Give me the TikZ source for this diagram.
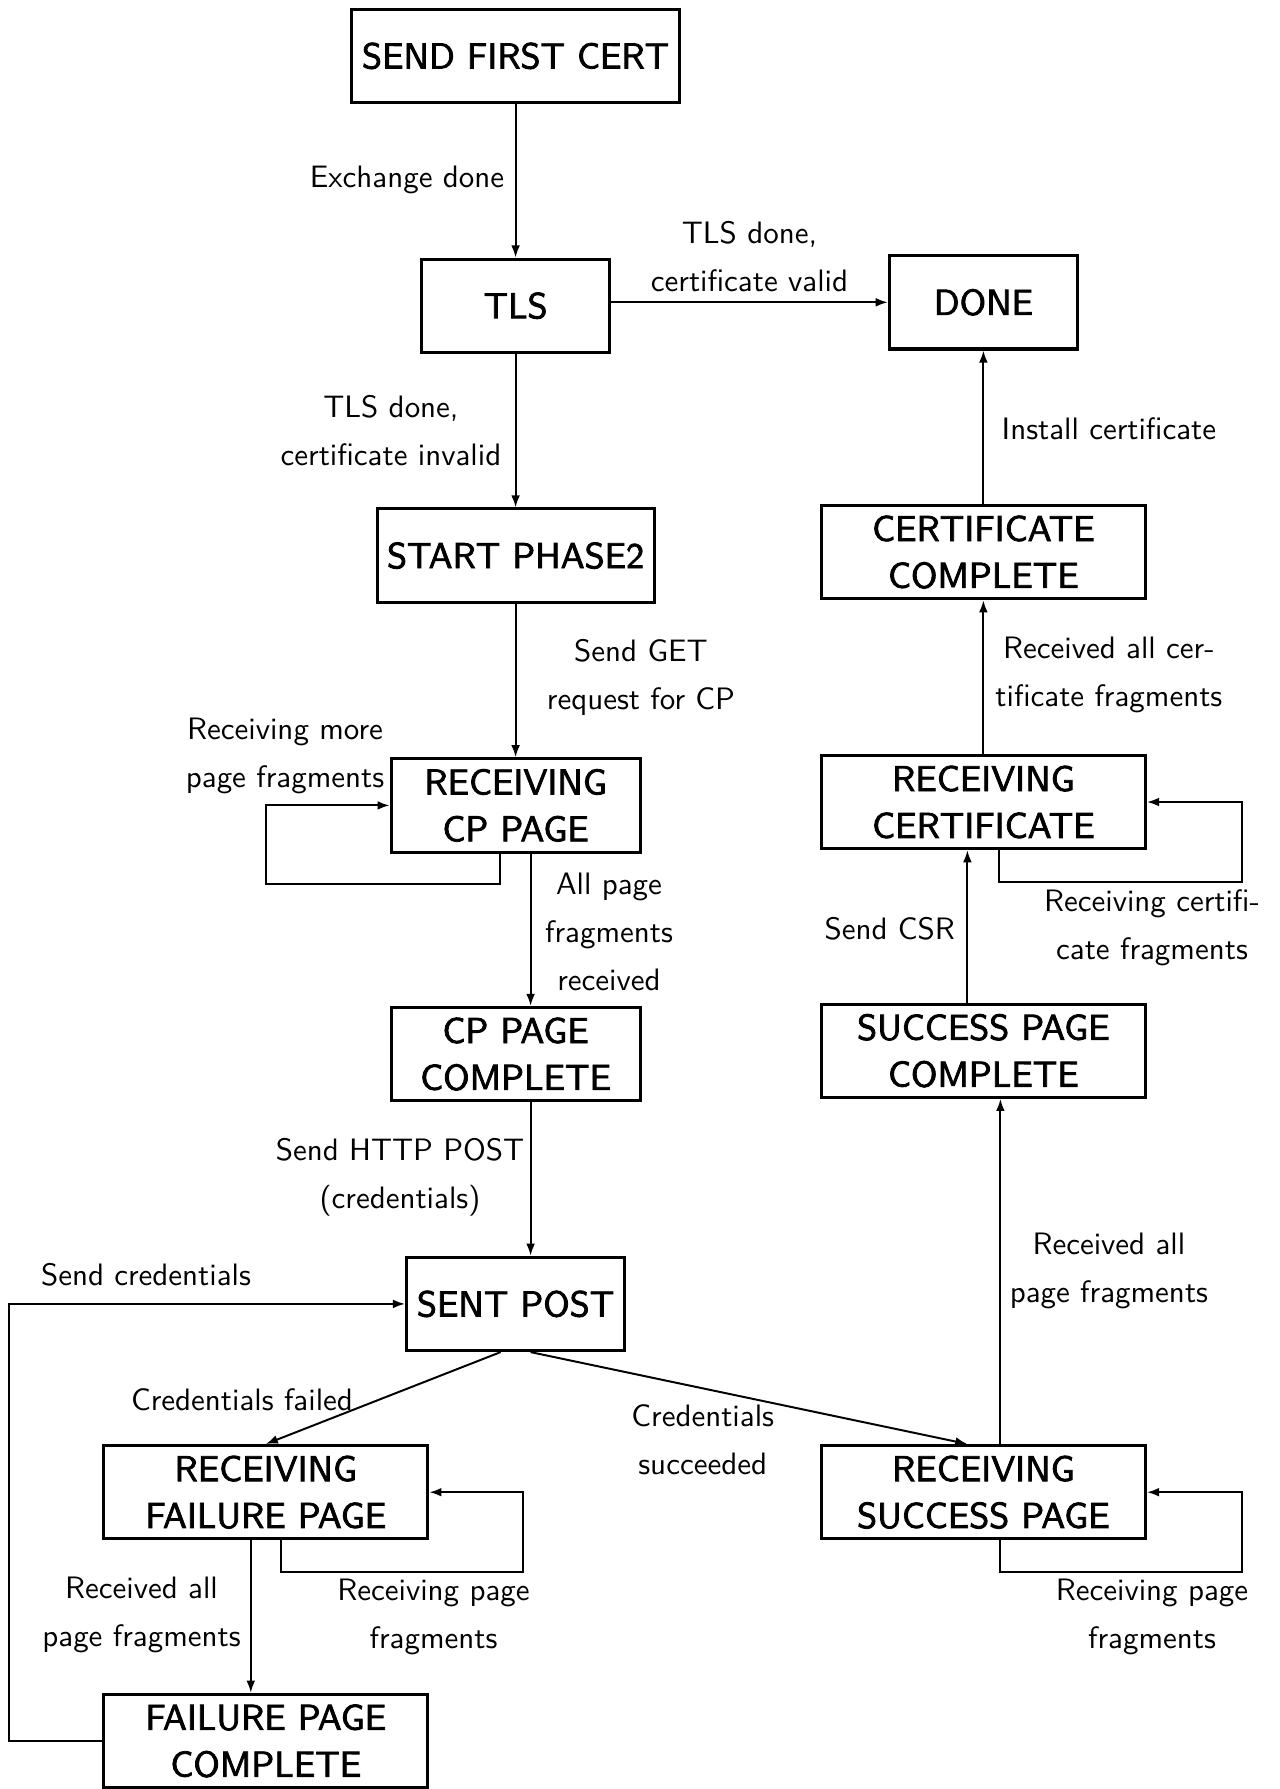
\documentclass[tikz,border=0pt]{standalone}
\usepackage{fontspec}
\setsansfont{lmsans10-regular.otf}
\newfontfamily\statefont{lmsans10-regular.otf}[FakeBold=2.2]
\usetikzlibrary{arrows.meta,calc}
\begin{document}
\begin{tikzpicture}[x=0.331pt,y=-0.331pt,
  state/.style={draw, line width=1pt, minimum height=30.9pt, inner sep=2pt, align=center,
    font=\statefont\fontsize{11.9}{15.5}\selectfont},
  lbl/.style={align=center, inner sep=0pt, font=\sffamily\fontsize{10.25}{15.9}\selectfont},
  arr/.style={-{Latex[length=4pt,width=2.9pt]}, line width=0.65pt}]
\useasboundingbox (0,0) rectangle (1280,1789);

% states
\node[state, minimum width=108.4pt] (sfc)   at (515.6,55.9)   {SEND FIRST CERT};
\node[state, minimum width=62.3pt]  (tls)   at (515.6,305.7)  {TLS};
\node[state, minimum width=62.3pt]  (done)  at (983.4,302.3)  {DONE};
\node[state, minimum width=91.7pt]  (start) at (515.6,555.6)  {START PHASE2};
\node[state, minimum width=107.3pt] (certc) at (983.4,552.1)  {CERTIFICATE\\COMPLETE};
\node[state, minimum width=82.4pt]  (rcp)   at (515.6,805.4)  {RECEIVING\\CP PAGE};
\node[state, minimum width=107.3pt] (rcert) at (983.4,802)    {RECEIVING\\CERTIFICATE};
\node[state, minimum width=82.4pt]  (cpc)   at (515.6,1054.1) {CP PAGE\\COMPLETE};
\node[state, minimum width=107.3pt] (spc)   at (983.4,1050.7) {SUCCESS PAGE\\COMPLETE};
\node[state, minimum width=72.2pt]  (sp)    at (515.6,1303.9) {SENT POST};
\node[state, minimum width=107.3pt] (rfp)   at (265.8,1492.2) {RECEIVING\\FAILURE PAGE};
\node[state, minimum width=107.3pt] (rsp)   at (983.4,1492.2) {RECEIVING\\SUCCESS PAGE};
\node[state, minimum width=107.3pt] (fpc)   at (265.8,1740.9) {FAILURE PAGE\\COMPLETE};

% corner points of the loops
\coordinate (rcpL)   at (265.8,884);
\coordinate (rfpL)   at (523,1571.5);
\coordinate (fpcL)   at (9,1303.9);
\coordinate (rspL)   at (1241.7,1571.7);
\coordinate (rcertL) at (1241.7,881.7);

% transitions
\draw[arr] (sfc) -- (tls);
\draw[arr] (tls.east |- done.west) -- (done.west);
\draw[arr] (tls) -- (start);
\draw[arr] (start) -- (rcp);
\draw[arr] ($(rcp.south)+(-15.9,0)$) |- (rcpL) |- (rcp.west);
\draw[arr] ($(rcp.south)+(15,0)$) -- ($(cpc.north)+(15,0)$);
\draw[arr] ($(cpc.south)+(15,0)$) -- ($(sp.north)+(15,0)$);
\draw[arr] ($(sp.south)+(-15,0)$) -- (rfp.north);
\draw[arr] ($(sp.south)+(15,0)$) -- ($(rsp.north)+(-16,0)$);
\draw[arr] ($(rfp.south)+(-15,0)$) -- ($(fpc.north)+(-15,0)$);
\draw[arr] ($(rfp.south)+(15.5,0)$) |- (rfpL) |- (rfp.east);
\draw[arr] (fpc.west) -| (fpcL) -- (sp.west);
\draw[arr] ($(rsp.south)+(17,0)$) |- (rspL) |- (rsp.east);
\draw[arr] ($(rsp.north)+(17,0)$) -- ($(spc.south)+(17,0)$);
\draw[arr] ($(spc.north)+(-16,0)$) -- ($(rcert.south)+(-16,0)$);
\draw[arr] ($(rcert.south)+(16,0)$) |- (rcertL) |- (rcert.east);
\draw[arr] (rcert) -- (certc);
\draw[arr] (certc) -- (done);

% transition labels
\node[lbl] (l1)  at (407,180)      {Exchange done};
\node[lbl] (l2)  at (749.5,256.7)  {TLS done,\\certificate valid};
\node[lbl] (l3)  at (391,431)      {TLS done,\\certificate invalid};
\node[lbl] (l4)  at (641,677.6)    {Send GET\\request for CP};
\node[lbl] (l5)  at (285,756)      {Receiving more\\page fragments};
\node[lbl] (l6)  at (609,932)      {All page\\fragments\\received};
\node[lbl] (l7)  at (400,1177)     {Send HTTP POST\\(credentials)};
\node[lbl] (l8)  at (242,1400)     {Credentials failed};
\node[lbl] (l9)  at (702.7,1439.7) {Credentials\\succeeded};
\node[lbl] (l10) at (141.5,1615.4) {Received all\\page fragments};
\node[lbl] (l11) at (433.5,1616.5) {Receiving page\\fragments};
\node[lbl] (l12) at (146,1274.3)   {Send credentials};
\node[lbl] (l13) at (1152,1616.5)  {Receiving page\\fragments};
\node[lbl] (l14) at (1108.9,1270.9){Received all\\page fragments};
\node[lbl] (l15) at (889.8,928.6)  {Send CSR};
\node[lbl] (l16) at (1152,927.5)   {Receiving certifi-\\cate fragments};
\node[lbl] (l17) at (1108.9,675.4) {Received all cer-\\tificate fragments};
\node[lbl] (l18) at (1108.9,429)   {Install certificate};
\end{tikzpicture}
\end{document}
